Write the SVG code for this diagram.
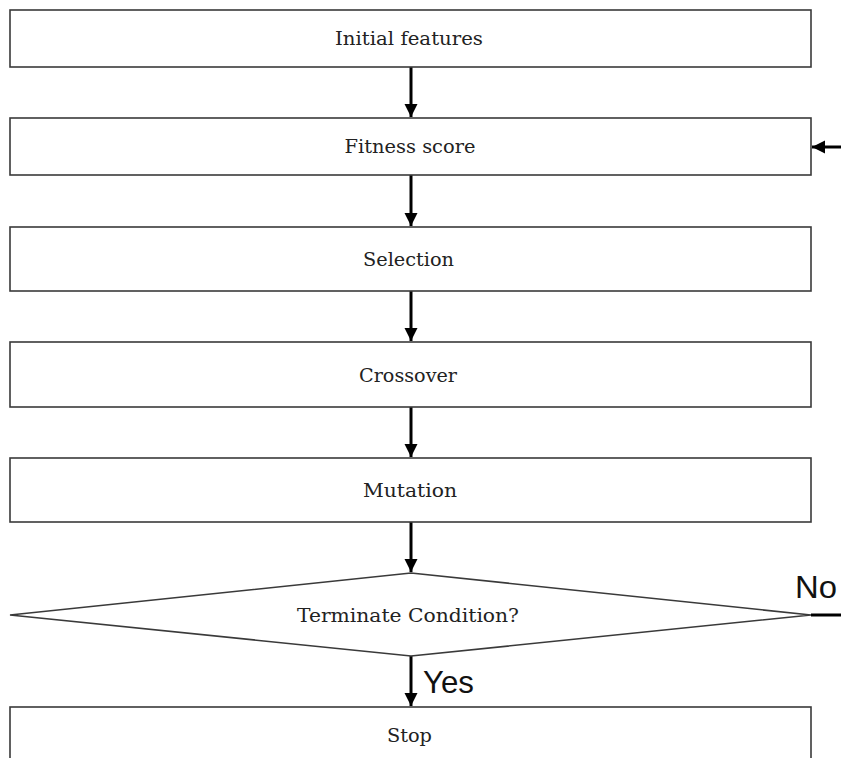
<svg xmlns="http://www.w3.org/2000/svg" width="841" height="758" viewBox="0 0 841 758">
<style>
.box{fill:#fff;stroke:#3a3a3a;stroke-width:1.6}
.lbl{font-family:"DejaVu Serif","Liberation Serif",serif;font-size:18px;fill:#222;text-anchor:middle}
.big{font-family:"Liberation Sans","Noto Sans",sans-serif;font-size:32px;fill:#111}
.conn{stroke:#000;stroke-width:3;fill:none}
</style>
<defs>
<marker id="ah" markerUnits="userSpaceOnUse" markerWidth="14" markerHeight="16" viewBox="0 0 14 16" refX="13" refY="8" orient="auto">
<path d="M0,1.5 L13,8 L0,14.5 Z" fill="#000"/>
</marker>
</defs>
<rect width="841" height="758" fill="#fff"/>
<g id="connectors">
<line class="conn" x1="411" y1="67" x2="411" y2="117" marker-end="url(#ah)"/>
<line class="conn" x1="411" y1="175" x2="411" y2="226" marker-end="url(#ah)"/>
<line class="conn" x1="411" y1="291" x2="411" y2="341" marker-end="url(#ah)"/>
<line class="conn" x1="411" y1="407" x2="411" y2="457" marker-end="url(#ah)"/>
<line class="conn" x1="411" y1="522" x2="411" y2="572" marker-end="url(#ah)"/>
<line class="conn" x1="411" y1="656" x2="411" y2="706" marker-end="url(#ah)"/>
<line class="conn" x1="841" y1="147" x2="812" y2="147" marker-end="url(#ah)"/>
<line class="conn" x1="811" y1="615" x2="841" y2="615"/>
<text class="big" x="423" y="693" textLength="51" lengthAdjust="spacingAndGlyphs">Yes</text>
<text class="big" x="795" y="598" textLength="42" lengthAdjust="spacingAndGlyphs">No</text>
</g>
<g id="initial">
<rect class="box" x="10" y="10" width="801" height="57"/>
<text class="lbl" x="409" y="45" textLength="148" lengthAdjust="spacingAndGlyphs">Initial  features</text>
</g>
<g id="fitness">
<rect class="box" x="10" y="118" width="801" height="57"/>
<text class="lbl" x="410" y="153" textLength="131" lengthAdjust="spacingAndGlyphs">Fitness  score</text>
</g>
<g id="selection">
<rect class="box" x="10" y="227" width="801" height="64"/>
<text class="lbl" x="408.5" y="266" textLength="91" lengthAdjust="spacingAndGlyphs">Selection</text>
</g>
<g id="crossover">
<rect class="box" x="10" y="342" width="801" height="65"/>
<text class="lbl" x="408" y="381.5" textLength="98" lengthAdjust="spacingAndGlyphs">Crossover</text>
</g>
<g id="mutation">
<rect class="box" x="10" y="458" width="801" height="64"/>
<text class="lbl" x="410" y="496.5" textLength="94" lengthAdjust="spacingAndGlyphs">Mutation</text>
</g>
<g id="terminate">
<polygon class="box" points="10,615 411,573 811,615 411,656"/>
<text class="lbl" x="408" y="621.5" textLength="222" lengthAdjust="spacingAndGlyphs">Terminate  Condition?</text>
</g>
<g id="stop">
<rect class="box" x="10" y="707" width="801" height="60"/>
<text class="lbl" x="409.5" y="742" textLength="45" lengthAdjust="spacingAndGlyphs">Stop</text>
</g>
</svg>
